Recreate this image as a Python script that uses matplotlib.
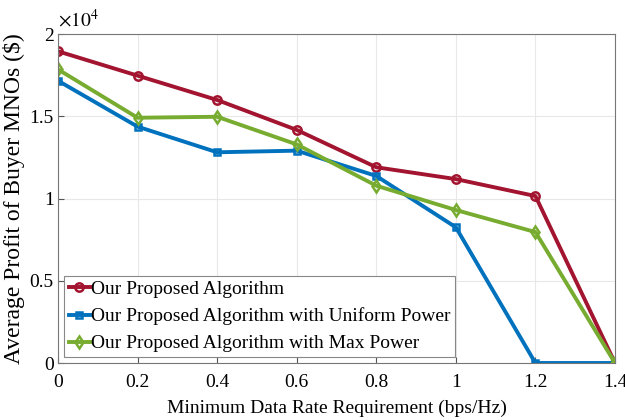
import matplotlib
matplotlib.use('Agg')
import matplotlib.pyplot as plt

plt.rcParams['font.family'] = ['Liberation Serif', 'DejaVu Serif']
plt.rcParams['mathtext.fontset'] = 'stix'

rate = [0, 0.2, 0.4, 0.6, 0.8, 1.0, 1.2, 1.4]
proposed = [1.895, 1.747, 1.599, 1.417, 1.19, 1.118, 1.015, 0]
uniform = [1.716, 1.437, 1.281, 1.291, 1.137, 0.825, 0, 0]
max_power = [1.785, 1.491, 1.497, 1.329, 1.078, 0.93, 0.796, 0]
labels = ['Our Proposed Algorithm',
          'Our Proposed Algorithm with Uniform Power',
          'Our Proposed Algorithm with Max Power']
xticks = [0, 0.2, 0.4, 0.6, 0.8, 1, 1.2, 1.4]
yticks = [0, 0.5, 1, 1.5, 2]

fig = plt.figure(figsize=(6.25, 4.2), dpi=100)
ax = fig.add_axes([0.0928, 0.1357, 0.8912, 0.7833])

ax.plot(rate, proposed, color='#A2142F', marker='o', lw=2.8, ms=6,
        mfc='none', mew=1.8, label=labels[0])
ax.plot(rate, uniform, color='#0072BD', marker='s', lw=2.8, ms=5,
        mfc='none', mew=1.8, label=labels[1])
ax.plot(rate, max_power, color='#77AC30', marker='d', lw=2.8, ms=6,
        mfc='none', mew=1.8, label=labels[2])

ax.set_xlim(0, 1.4)
ax.set_ylim(0, 2)
ax.set_xticks(xticks)
ax.set_xticklabels(['0', '0.2', '0.4', '0.6', '0.8', '1', '1.2', '1.4'])
ax.set_yticks(yticks)
ax.set_yticklabels(['0', '0.5', '1', '1.5', '2'])
ax.tick_params(direction='in', labelsize=14, length=4, color='#555555')
ax.tick_params(axis='x', pad=8)
ax.tick_params(axis='y', pad=3)
ax.grid(True, color='#e8e8e8', lw=0.8)
for s in ax.spines.values():
    s.set_color('#777777')
    s.set_linewidth(0.8)

ax.set_xlabel('Minimum Data Rate Requirement (bps/Hz)', fontsize=14, labelpad=6)
ax.set_ylabel('Average Profit of Buyer MNOs ($)', fontsize=17, labelpad=3)
ax.text(0.0, 1.01, r'$\times10^{4}$', transform=ax.transAxes, fontsize=14,
        va='bottom', ha='left')

leg = ax.legend(loc='lower left', fontsize=14, handlelength=1.1,
                handletextpad=0.05, borderpad=0.25, labelspacing=0.48,
                borderaxespad=0.3, fancybox=False, framealpha=1)
leg.get_frame().set_edgecolor('#888888')
leg.get_frame().set_linewidth(0.8)

fig.savefig('out.png', dpi=100)
